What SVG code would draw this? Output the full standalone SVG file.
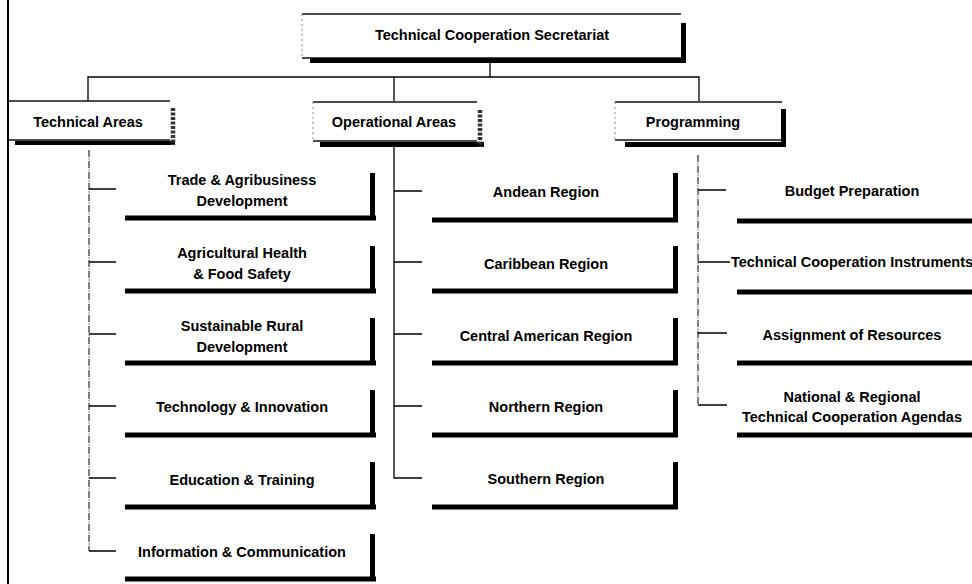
<svg xmlns="http://www.w3.org/2000/svg" width="972" height="584" viewBox="0 0 972 584">
<style>
  text{font-family:"Liberation Sans",Arial,sans-serif;font-weight:bold;font-size:14.5px;fill:#000;text-anchor:middle}
  .thin{stroke:#111;stroke-width:1.3;fill:none}
  .faint{stroke:#888;stroke-width:1;fill:none;stroke-dasharray:2 3}
  .bar{fill:#000}
  .hatch{stroke:#333;stroke-width:4.5;stroke-dasharray:3 1.5;fill:none}
  .conn{stroke:#000;stroke-width:1.3;fill:none}
  .dash{stroke:#000;stroke-width:1;fill:none;stroke-dasharray:7 1.5 1 1.5}
</style>
<rect x="0" y="0" width="972" height="584" fill="#fff"/>
<line x1="8" y1="0" x2="8" y2="584" stroke="#000" stroke-width="2"/>

<g id="connectors">
  <path class="conn" d="M490 63V77M88 101V77H699V101M394 77V101"/>
  <path class="dash" d="M89 150V551"/>
  <path class="conn" d="M89 189H116M89 262H116M89 334H116M89 406H116M89 478H116M89 551H116"/>
  <path class="conn" d="M394 147V478H422M394 191H422M394 262H422M394 334H422M394 406H422"/>
  <path class="dash" d="M698 155V405"/>
  <path class="conn" d="M698 190H726M698 262H730M698 333H727M698 405H727"/>
</g>

<g id="secretariat">
  <line class="thin" x1="302" y1="14" x2="681" y2="14"/>
  <line class="faint" x1="302" y1="14" x2="302" y2="58"/>
  <line class="thin" x1="302" y1="58" x2="681" y2="58" stroke="#777"/>
  <rect class="bar" x="310" y="58" width="376" height="5"/>
  <rect class="bar" x="681" y="23" width="5" height="40"/>
  <text x="492" y="40">Technical Cooperation Secretariat</text>
</g>

<g id="technical-areas">
  <line class="thin" x1="8" y1="101" x2="170" y2="101"/>
  <line class="thin" x1="8" y1="140" x2="170" y2="140" stroke="#777"/>
  <rect class="bar" x="15" y="141" width="160" height="4"/>
  <line class="hatch" x1="173" y1="108" x2="173" y2="145"/>
  <text x="88" y="127">Technical Areas</text>
</g>

<g id="operational-areas">
  <line class="thin" x1="313" y1="102" x2="477" y2="102"/>
  <line class="faint" x1="313" y1="102" x2="313" y2="141"/>
  <line class="thin" x1="313" y1="141" x2="477" y2="141" stroke="#777"/>
  <rect class="bar" x="320" y="142" width="164" height="5"/>
  <line class="hatch" x1="480" y1="110" x2="480" y2="147"/>
  <text x="394" y="127">Operational Areas</text>
</g>

<g id="programming">
  <line class="thin" x1="615" y1="102" x2="782" y2="102"/>
  <line class="faint" x1="615" y1="102" x2="615" y2="140"/>
  <line class="thin" x1="615" y1="140" x2="782" y2="140" stroke="#777"/>
  <rect class="bar" x="625" y="142" width="161" height="5"/>
  <rect class="bar" x="781" y="109" width="5" height="38"/>
  <text x="693" y="127">Programming</text>
</g>

<g id="trade">
  <rect class="bar" x="125" y="215.5" width="251" height="5"/>
  <rect class="bar" x="370" y="173" width="5" height="47"/>
  <text x="242" y="185">Trade &amp; Agribusiness</text>
  <text x="242" y="206">Development</text>
</g>
<g id="ag-health">
  <rect class="bar" x="125" y="288.5" width="251" height="5"/>
  <rect class="bar" x="370" y="246" width="5" height="47"/>
  <text x="242" y="258">Agricultural Health</text>
  <text x="242" y="279">&amp; Food Safety</text>
</g>
<g id="rural">
  <rect class="bar" x="125" y="360.5" width="251" height="5"/>
  <rect class="bar" x="370" y="318" width="5" height="47"/>
  <text x="242" y="331">Sustainable Rural</text>
  <text x="242" y="352">Development</text>
</g>
<g id="technology">
  <rect class="bar" x="125" y="432.5" width="251" height="5"/>
  <rect class="bar" x="370" y="390" width="5" height="47"/>
  <text x="242" y="412">Technology &amp; Innovation</text>
</g>
<g id="education">
  <rect class="bar" x="125" y="504.5" width="251" height="5"/>
  <rect class="bar" x="370" y="462" width="5" height="47"/>
  <text x="242" y="485">Education &amp; Training</text>
</g>
<g id="information">
  <rect class="bar" x="125" y="576.5" width="251" height="5"/>
  <rect class="bar" x="370" y="534" width="5" height="47"/>
  <text x="242" y="557">Information &amp; Communication</text>
</g>

<g id="andean">
  <rect class="bar" x="432" y="217.5" width="246" height="5"/>
  <rect class="bar" x="673" y="173" width="5" height="49"/>
  <text x="546" y="197">Andean Region</text>
</g>
<g id="caribbean">
  <rect class="bar" x="432" y="288.5" width="246" height="5"/>
  <rect class="bar" x="673" y="246" width="5" height="47"/>
  <text x="546" y="269">Caribbean Region</text>
</g>
<g id="central-american">
  <rect class="bar" x="432" y="360.5" width="246" height="5"/>
  <rect class="bar" x="673" y="318" width="5" height="47"/>
  <text x="546" y="341">Central American Region</text>
</g>
<g id="northern">
  <rect class="bar" x="432" y="432.5" width="246" height="5"/>
  <rect class="bar" x="673" y="390" width="5" height="47"/>
  <text x="546" y="412">Northern Region</text>
</g>
<g id="southern">
  <rect class="bar" x="432" y="504.5" width="246" height="5"/>
  <rect class="bar" x="673" y="462" width="5" height="47"/>
  <text x="546" y="484">Southern Region</text>
</g>

<g id="budget">
  <rect class="bar" x="737" y="218.5" width="240" height="5"/>
  <text x="852" y="196">Budget Preparation</text>
</g>
<g id="instruments">
  <rect class="bar" x="737" y="289.5" width="240" height="5"/>
  <text x="852" y="267">Technical Cooperation Instruments</text>
</g>
<g id="assignment">
  <rect class="bar" x="737" y="360.5" width="240" height="5"/>
  <text x="852" y="340">Assignment of Resources</text>
</g>
<g id="agendas">
  <rect class="bar" x="737" y="432.5" width="240" height="5"/>
  <text x="852" y="402">National &amp; Regional</text>
  <text x="852" y="422">Technical Cooperation Agendas</text>
</g>
</svg>
